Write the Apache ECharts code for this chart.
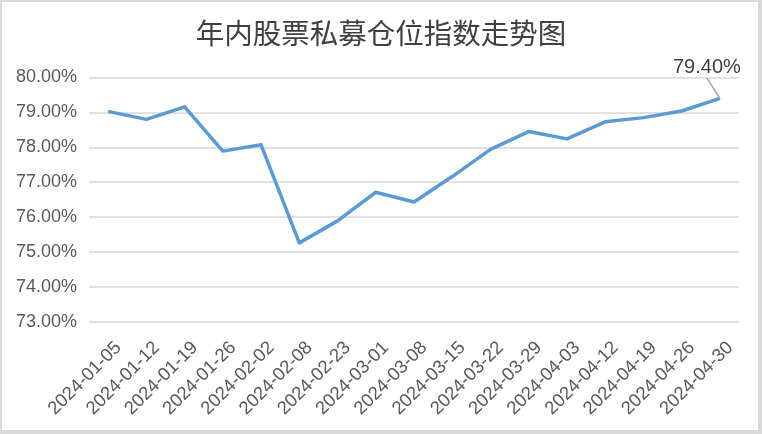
<!DOCTYPE html>
<html>
<head>
<meta charset="utf-8">
<script src="https://cdn.jsdelivr.net/npm/echarts@6/dist/echarts.min.js"></script>
<style>
html,body{margin:0;padding:0;background:#fff;}
#chart{width:762px;height:434px;}
</style>
</head>
<body>
<div id="chart"></div>
<script>
const titleText = '年内股票私募仓位指数走势图';
const categories = ['2024-01-05','2024-01-12','2024-01-19','2024-01-26','2024-02-02','2024-02-08','2024-02-23','2024-03-01','2024-03-08','2024-03-15','2024-03-22','2024-03-29','2024-04-03','2024-04-12','2024-04-19','2024-04-26','2024-04-30'];
const positionIndex = [79.03, 78.80, 79.16, 77.89, 78.07, 75.26, 75.89, 76.71, 76.43, 77.16, 77.94, 78.45, 78.24, 78.73, 78.85, 79.04, 79.40];
const yMin = 73, yMax = 80, yStep = 1;

const chart = echarts.init(document.getElementById('chart'));
const lastIdx = positionIndex.length - 1;
const seriesData = positionIndex.map((v, i) => i === lastIdx
  ? { value: v, symbol: 'circle', symbolSize: 1, label: { show: true } }
  : v);

chart.setOption({
  animation: false,
  backgroundColor: '#ffffff',
  title: {
    text: titleText,
    left: 'center',
    top: 14,
    textStyle: { fontFamily: 'Noto Sans CJK SC', fontSize: 28.5, fontWeight: 'normal', color: '#404040' }
  },
  graphic: [
    { type: 'rect', left: 0, top: 0, shape: { width: 762, height: 2 }, style: { fill: '#d9d9d9' } },
    { type: 'rect', left: 0, top: 0, shape: { width: 2, height: 434 }, style: { fill: '#d9d9d9' } },
    { type: 'rect', left: 758, top: 0, shape: { width: 4, height: 434 }, style: { fill: '#d9d9d9' } },
    { type: 'rect', left: 0, top: 430, shape: { width: 762, height: 4 }, style: { fill: '#d9d9d9' } }
  ],
  grid: { left: 89, right: 23, top: 77.5, bottom: 112.3, containLabel: false },
  xAxis: {
    type: 'category',
    data: categories,
    boundaryGap: true,
    axisLine: { show: false },
    axisTick: { show: false },
    axisLabel: {
      interval: 0,
      rotate: 45,
      margin: 13,
      verticalAlign: 'top',
      padding: [5, 0, 0, 0],
      color: '#595959',
      fontSize: 18.5,
      fontFamily: 'Liberation Sans, Arial, sans-serif'
    }
  },
  yAxis: {
    type: 'value',
    min: yMin,
    max: yMax,
    interval: yStep,
    axisLine: { show: false },
    axisTick: { show: false },
    splitLine: { lineStyle: { color: '#d9d9d9', width: 1.5 } },
    axisLabel: {
      margin: 12,
      color: '#595959',
      fontSize: 18,
      fontFamily: 'Liberation Sans, Arial, sans-serif',
      formatter: v => v.toFixed(2) + '%'
    }
  },
  series: [{
    type: 'line',
    data: seriesData,
    showSymbol: true,
    symbol: 'none',
    lineStyle: { color: '#5b9bd5', width: 3.5, join: 'round' },
    itemStyle: { color: '#5b9bd5' },
    label: {
      show: false,
      position: 'top',
      fontSize: 20,
      color: '#404040',
      fontFamily: 'Liberation Sans, Arial, sans-serif',
      formatter: p => p.value.toFixed(2) + '%'
    },
    labelLayout: { dx: -13, dy: -15 },
    labelLine: { show: true, lineStyle: { color: '#a6a6a6', width: 1.5 } }
  }]
});
</script>
</body>
</html>
